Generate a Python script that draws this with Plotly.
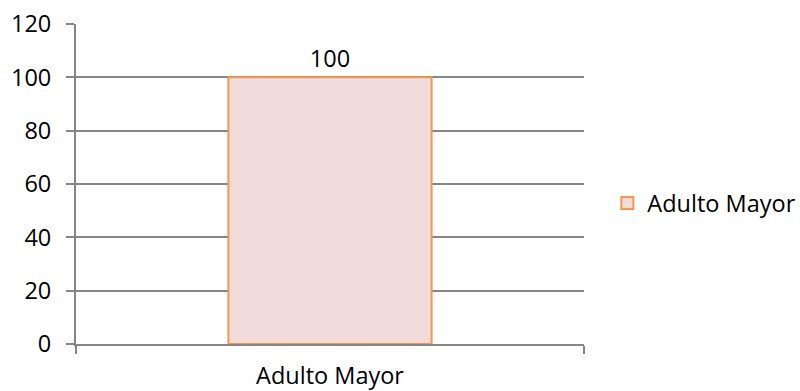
import plotly.graph_objects as go

categories = ["Adulto Mayor"]
values = [100]
series_name = "Adulto Mayor"
y_ticks = [0, 20, 40, 60, 80, 100, 120]

FONT = "Open Sans"
FS = 23.5
fig = go.Figure()
fig.add_trace(go.Bar(
    x=categories, y=values, name=series_name,
    width=0.4,
    marker=dict(color="#F2DCDB", line=dict(color="#F79646", width=2)),
    text=[str(v) for v in values], textposition="outside",
    textfont=dict(family=FONT, size=FS, color="#000000"),
    cliponaxis=False,
    showlegend=True,
))
fig.update_layout(
    width=800, height=391,
    margin=dict(l=76, r=216, t=24, b=47, autoexpand=False),
    paper_bgcolor="white", plot_bgcolor="white",
    font=dict(family=FONT, size=FS, color="#000000"),
    showlegend=True,
    legend=dict(x=1.046, y=0.44, xanchor="left", yanchor="middle",
                font=dict(family=FONT, size=FS), itemwidth=30,
                bgcolor="rgba(0,0,0,0)"),
    xaxis=dict(
        showline=True, linecolor="#868686", linewidth=2,
        ticks="outside", tickson="boundaries", ticklen=8, tickcolor="#868686", tickwidth=2,
        showgrid=False, range=[-0.5, 0.5], ticklabelstandoff=10, automargin=False,
    ),
    yaxis=dict(
        range=[0, 120], tickvals=y_ticks,
        showline=True, linecolor="#868686", linewidth=2,
        ticks="outside", ticklen=8, tickcolor="#868686", tickwidth=2,
        showgrid=True, gridcolor="#868686", gridwidth=1.5,
        zeroline=False, ticklabelstandoff=10, automargin=False,
    ),
)
fig.write_html("out.html")
